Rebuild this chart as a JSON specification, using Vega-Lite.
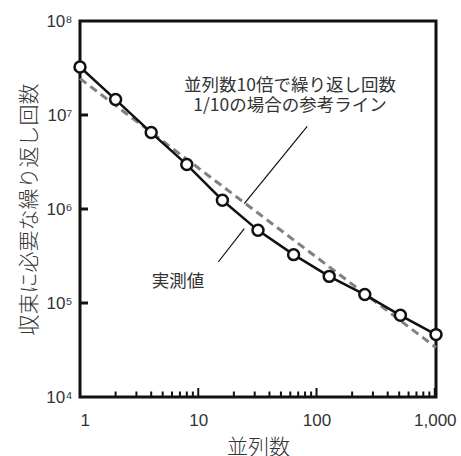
{
  "$schema": "https://vega.github.io/schema/vega-lite/v6.json",
  "width": 356,
  "height": 376,
  "autosize": "none",
  "padding": {"left": 80, "top": 21, "right": 25, "bottom": 59},
  "config": {
    "view": {"stroke": "#111", "strokeWidth": 3},
    "font": "Noto Sans CJK JP",
    "axis": {"grid": false, "domain": false, "ticks": false, "labelColor": "#333", "titleColor": "#333"}
  },
  "datasets": {
    "measured": [
      {"n": 1, "iter": 32400000},
      {"n": 2, "iter": 14600000},
      {"n": 4, "iter": 6500000},
      {"n": 8, "iter": 2970000},
      {"n": 16, "iter": 1240000},
      {"n": 32, "iter": 593000},
      {"n": 64, "iter": 327000},
      {"n": 128, "iter": 192000},
      {"n": 256, "iter": 123000},
      {"n": 512, "iter": 74000},
      {"n": 1024, "iter": 46100}
    ],
    "reference": [
      {"n": 1, "iter": 24400000},
      {"n": 1024, "iter": 33600}
    ],
    "leaders": [
      {"x1": 83.4, "y1": 7580000, "x2": 24.5, "y2": 1140000},
      {"x1": 14.76, "y1": 273000, "x2": 24.5, "y2": 619000}
    ],
    "labels": [
      {"n": 59.7, "iter": 20500000, "label": ["並列数10倍で繰り返し回数", "1/10の場合の参考ライン"]},
      {"n": 6.74, "iter": 167000, "label": ["実測値"]}
    ],
    "xmajor": [{"n": 10}, {"n": 100}, {"n": 1000}],
    "xminor": [
      {"n": 2}, {"n": 3}, {"n": 4}, {"n": 5}, {"n": 6}, {"n": 7}, {"n": 8}, {"n": 9},
      {"n": 20}, {"n": 30}, {"n": 40}, {"n": 50}, {"n": 60}, {"n": 70}, {"n": 80}, {"n": 90},
      {"n": 200}, {"n": 300}, {"n": 400}, {"n": 500}, {"n": 600}, {"n": 700}, {"n": 800}, {"n": 900}
    ],
    "ymajor": [{"iter": 100000}, {"iter": 1000000}, {"iter": 10000000}]
  },
  "layer": [
    {
      "data": {"name": "reference"},
      "mark": {"type": "line", "stroke": "#808080", "strokeWidth": 3, "strokeDash": [8, 5]},
      "encoding": {
        "x": {
          "field": "n", "type": "quantitative",
          "scale": {"type": "log", "domain": [1, 1024], "nice": false},
          "axis": {
            "values": [1, 10, 100, 1000],
            "format": ",",
            "labelPadding": 15, "labelFontSize": 17, "labelFont": "Liberation Sans",
            "title": "並列数", "titleFontSize": 21, "titleFontWeight": 300, "titlePadding": 8
          }
        },
        "y": {
          "field": "iter", "type": "quantitative",
          "scale": {"type": "log", "domain": [10000, 100000000], "nice": false},
          "axis": {
            "values": [10000, 100000, 1000000, 10000000, 100000000],
            "labelExpr": "'10' + ['⁰','¹','²','³','⁴','⁵','⁶','⁷','⁸','⁹'][round(log(datum.value)/LN10)]",
            "labelPadding": 8, "labelFontSize": 17, "labelFont": "Liberation Sans",
            "title": "収束に必要な繰り返し回数", "titleFontSize": 21, "titleFontWeight": 300, "titlePadding": 6
          }
        }
      }
    },
    {
      "data": {"name": "xmajor"},
      "mark": {"type": "tick", "orient": "vertical", "size": 9, "thickness": 2, "yOffset": -4.5, "color": "#111", "opacity": 1},
      "encoding": {
        "x": {"field": "n", "type": "quantitative"},
        "y": {"datum": 10000, "type": "quantitative"}
      }
    },
    {
      "data": {"name": "xminor"},
      "mark": {"type": "tick", "orient": "vertical", "size": 5.5, "thickness": 2, "yOffset": -2.75, "color": "#111", "opacity": 1},
      "encoding": {
        "x": {"field": "n", "type": "quantitative"},
        "y": {"datum": 10000, "type": "quantitative"}
      }
    },
    {
      "data": {"name": "ymajor"},
      "mark": {"type": "tick", "orient": "horizontal", "size": 8, "thickness": 3, "xOffset": 4, "color": "#111", "opacity": 1},
      "encoding": {
        "x": {"datum": 1, "type": "quantitative"},
        "y": {"field": "iter", "type": "quantitative"}
      }
    },
    {
      "data": {"name": "measured"},
      "mark": {"type": "line", "stroke": "#111", "strokeWidth": 2.5},
      "encoding": {
        "x": {"field": "n", "type": "quantitative"},
        "y": {"field": "iter", "type": "quantitative"}
      }
    },
    {
      "data": {"name": "measured"},
      "mark": {"type": "point", "shape": "circle", "filled": true, "fill": "white", "stroke": "#111", "strokeWidth": 2.5, "size": 120, "opacity": 1},
      "encoding": {
        "x": {"field": "n", "type": "quantitative"},
        "y": {"field": "iter", "type": "quantitative"}
      }
    },
    {
      "data": {"name": "leaders"},
      "mark": {"type": "rule", "stroke": "#111", "strokeWidth": 1.2},
      "encoding": {
        "x": {"field": "x1", "type": "quantitative"},
        "y": {"field": "y1", "type": "quantitative"},
        "x2": {"field": "x2"},
        "y2": {"field": "y2"}
      }
    },
    {
      "data": {"name": "labels"},
      "mark": {"type": "text", "fontSize": 17.5, "color": "#333", "lineHeight": 20, "align": "center", "baseline": "middle"},
      "encoding": {
        "x": {"field": "n", "type": "quantitative"},
        "y": {"field": "iter", "type": "quantitative"},
        "text": {"field": "label"}
      }
    }
  ]
}
